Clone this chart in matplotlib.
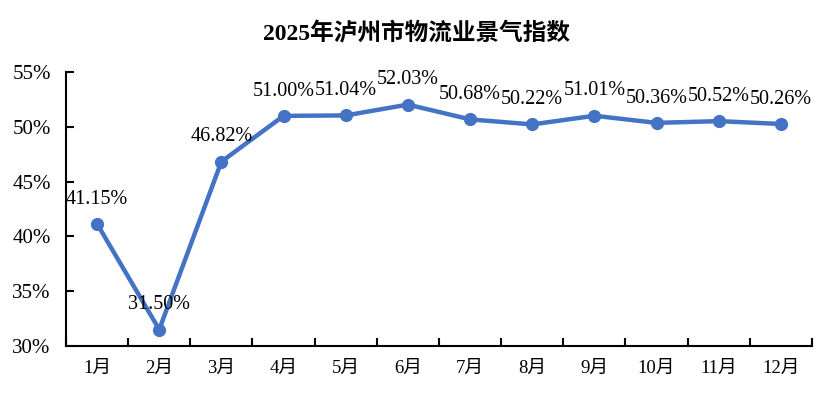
import matplotlib.pyplot as plt
import numpy as np

plt.rcParams['font.family'] = ['Liberation Serif', 'Noto Sans CJK SC']

months = ['1月', '2月', '3月', '4月', '5月', '6月', '7月', '8月', '9月', '10月', '11月', '12月']
index_values = [41.15, 31.50, 46.82, 51.00, 51.04, 52.03, 50.68, 50.22, 51.01, 50.36, 50.52, 50.26]
y_ticks = [30, 35, 40, 45, 50, 55]

fig = plt.figure(figsize=(8.34, 3.98), dpi=100)
ax = fig.add_axes([0.0791, 0.1307, 0.8945, 0.6883])

x = np.arange(len(months))
ax.plot(x, index_values, color='#4472C4', lw=3.2, marker='o', markersize=8.5, zorder=3)

for xi, v in zip(x, index_values):
    ax.annotate(f'{v:.2f}%', xy=(xi, v), xytext=(0, 11), textcoords='offset points',
                ha='center', va='bottom', fontsize=14.5, color='black')

ax.set_xlim(-0.5, len(months) - 0.5)
ax.set_ylim(30, 55)
ax.set_yticks(y_ticks)
ax.set_yticklabels([f'{t}%' for t in y_ticks], fontsize=15)

# category boundaries carry the tick marks, labels sit at the centres
ax.set_xticks(np.arange(len(months) + 1) - 0.5)
ax.set_xticklabels([])
ax.set_xticks(x, minor=True)
ax.set_xticklabels(months, minor=True, fontsize=13.5)
ax.tick_params(axis='x', which='major', direction='in', length=6, width=1.5)
ax.tick_params(axis='x', which='minor', length=0, pad=10)
ax.tick_params(axis='y', direction='in', length=6, width=1.5, pad=11)

for s in ['top', 'right']:
    ax.spines[s].set_visible(False)
for s in ['left', 'bottom']:
    ax.spines[s].set_linewidth(1.5)

fig.text(0.5, 0.915, '2025年泸州市物流业景气指数', ha='center', va='center',
         fontsize=17, fontweight='bold')

fig.savefig('out.png', dpi=100)
